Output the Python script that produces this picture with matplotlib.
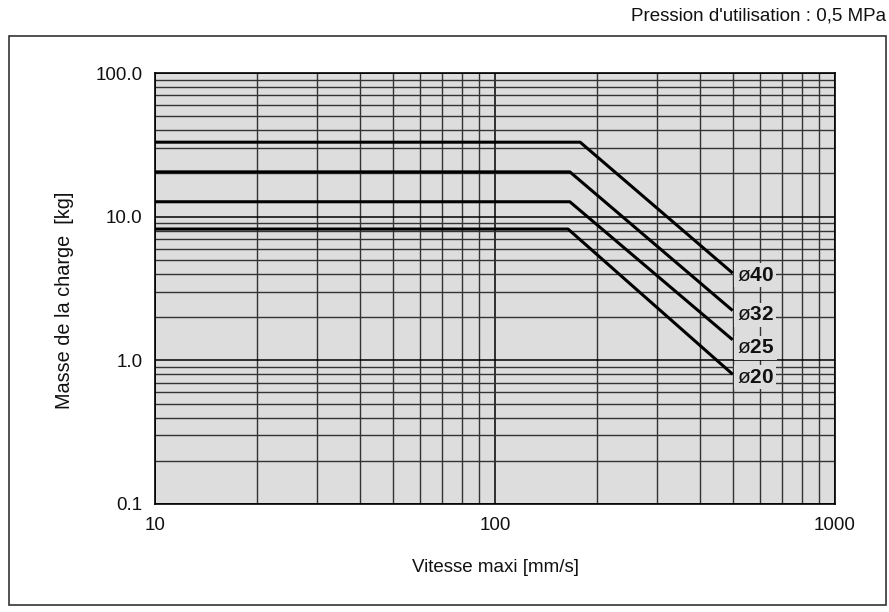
import matplotlib
matplotlib.use("Agg")
import matplotlib.pyplot as plt
from matplotlib.ticker import FixedLocator, FixedFormatter, LogLocator, NullFormatter
from matplotlib.patches import Rectangle

plt.rcParams['font.family'] = ['Liberation Sans', 'DejaVu Sans']
plt.rcParams['mathtext.fontset'] = 'custom'
plt.rcParams['mathtext.bf'] = 'Liberation Sans:bold'
plt.rcParams['mathtext.rm'] = 'Liberation Sans'

# cylinder bores and their curves (speed mm/s, load kg)
bores = ["40", "32", "25", "20"]
speed_pts = {
    "40": [10, 178, 500],
    "32": [10, 166, 500],
    "25": [10, 166, 500],
    "20": [10, 164, 500],
}
load_pts = {
    "40": [33.0, 33.0, 4.05],
    "32": [20.5, 20.5, 2.22],
    "25": [12.7, 12.7, 1.39],
    "20": [8.2, 8.2, 0.80],
}
label_offset = {"40": (4, -2), "32": (4, -4), "25": (4, -8), "20": (4, -3)}

x_ticks = [10, 100, 1000]
x_ticklabels = ["10", "100", "1000"]
y_ticks = [0.1, 1, 10, 100]
y_ticklabels = ["0.1", "1.0", "10.0", "100.0"]

fig = plt.figure(figsize=(8.89, 6.12), dpi=100)
ax = fig.add_axes([155/889, 1-504/612, 680/889, 431/612])
ax.set_facecolor('#dddddd')
ax.set_xscale('log')
ax.set_yscale('log')
ax.set_xlim(10, 1000)
ax.set_ylim(0.1, 100)

ax.xaxis.set_major_locator(FixedLocator(x_ticks))
ax.xaxis.set_major_formatter(FixedFormatter(x_ticklabels))
ax.yaxis.set_major_locator(FixedLocator(y_ticks))
ax.yaxis.set_major_formatter(FixedFormatter(y_ticklabels))
for a in (ax.xaxis, ax.yaxis):
    a.set_minor_locator(LogLocator(base=10, subs=range(2, 10)))
    a.set_minor_formatter(NullFormatter())

ax.grid(which='major', color='black', lw=1.1)
ax.grid(which='minor', color='#333333', lw=1.0)
ax.set_axisbelow(True)
ax.tick_params(which='both', length=0, labelsize=13.5, pad=9, colors='#111111')
for s in ax.spines.values():
    s.set_color('black')
    s.set_linewidth(1.2)

for b in bores:
    ax.plot(speed_pts[b], load_pts[b], color='black', lw=2.2, solid_capstyle='butt', zorder=3)
    ax.annotate(r"ø$\mathbf{" + b + "}$", xy=(speed_pts[b][-1], load_pts[b][-1]),
                xytext=label_offset[b], textcoords='offset pixels',
                ha='left', va='center', fontsize=15, color='#111111', zorder=4,
                bbox=dict(boxstyle='square,pad=0.12', fc='#dddddd', ec='none'))

ax.set_xlabel("Vitesse maxi [mm/s]", fontsize=13.5, labelpad=18, color='#111111')
ax.set_ylabel("Masse de la charge  [kg]", fontsize=14.3, color='#111111')
ax.yaxis.set_label_coords(-0.119, 0.473)

fig.patches.append(Rectangle((9/889, 1-605/612), 877/889, 569/612, transform=fig.transFigure,
                             fill=False, ec='#333333', lw=1.2))
fig.text(886/889, 1-16/612, "Pression d'utilisation : 0,5 MPa", ha='right', va='center',
         fontsize=13.5, color='#111111')

fig.savefig("out.png", dpi=100)
